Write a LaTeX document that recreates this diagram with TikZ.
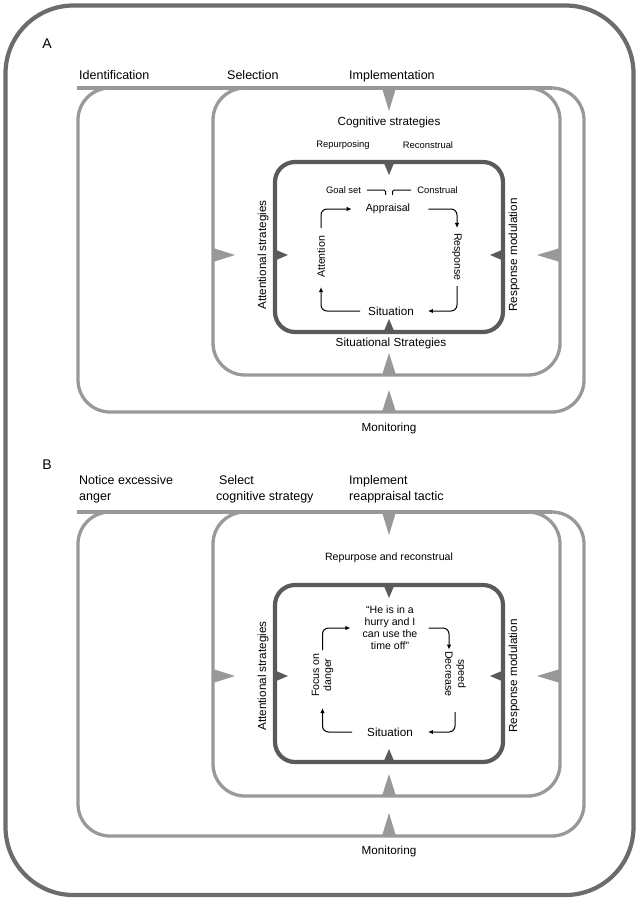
\documentclass[tikz,border=0pt]{standalone}
\usepackage{fontspec}
\setmainfont{Liberation Sans}
\usetikzlibrary{arrows.meta}
\definecolor{lg}{HTML}{999999}
\definecolor{dk}{HTML}{5A5A5A}
\definecolor{fr}{HTML}{6C6C6C}
\begin{document}
\begin{tikzpicture}[x=1pt,y=-1pt,
  frame/.style={draw=fr,line width=4.2pt,rounded corners=68pt},
  lbox/.style={draw=lg,line width=3.3pt,rounded corners=32pt},
  dbox/.style={draw=dk,line width=4.2pt,rounded corners=20pt},
  lbl/.style={inner sep=0pt,text=black},
  fA/.style={font=\fontsize{14}{16}\selectfont},
  fH/.style={font=\fontsize{12.5}{16}\selectfont},
  fM/.style={font=\fontsize{11.7}{14}\selectfont},
  fS/.style={font=\fontsize{10.6}{12}\selectfont},
  fT/.style={font=\fontsize{9.4}{11}\selectfont},
  arr/.style={line width=1pt,rounded corners=6pt,-{Latex[length=5pt,width=4.5pt]}},
  brk/.style={line width=1pt,rounded corners=1.5pt},
]
\useasboundingbox (0,0) rectangle (639,900);
% outer frame
\draw[frame] (5.5,5.5) rectangle (633.5,895);

%%%%%%%%%%%%%%%% PANEL A %%%%%%%%%%%%%%%%
\draw[lg,line width=3.3pt] (77,88) -- (552,88);
\draw[lbox] (78,88) rectangle (584,412);
\draw[lbox] (213,88) rectangle (560,375);
\draw[dbox] (275,162) rectangle (503,332);
% light triangles
\fill[lg] (382,88) -- (396,88) -- (389,111) -- cycle;
\fill[lg] (213,248) -- (213,262) -- (235,255) -- cycle;
\fill[lg] (560,248) -- (560,262) -- (537,255) -- cycle;
\fill[lg] (382,375) -- (396,375) -- (389,353) -- cycle;
\fill[lg] (382,412) -- (396,412) -- (389,390) -- cycle;
% dark triangles
\fill[dk] (383.5,162) -- (394.5,162) -- (389,175) -- cycle;
\fill[dk] (383.5,332) -- (394.5,332) -- (389,319) -- cycle;
\fill[dk] (275,249.5) -- (275,260.5) -- (288,255) -- cycle;
\fill[dk] (503,249.5) -- (503,260.5) -- (490,255) -- cycle;

\node[lbl,fA] (labA) at (47,44) {A};
\node[lbl,fH,anchor=base west] (idA) at (79,79.5) {Identification};
\node[lbl,fH,anchor=base west] (selA) at (227,79.5) {Selection};
\node[lbl,fH,anchor=base west] (impA) at (349,79.5) {Implementation};
\node[lbl,fM] (cogA) at (389,122) {Cognitive strategies};
\node[lbl,fT] (repA) at (343,145) {Repurposing};
\node[lbl,fT] (recA) at (428,145) {Reconstrual};
\node[lbl,fT] (goalA) at (343.5,190) {Goal set};
\node[lbl,fT] (consA) at (437.5,190) {Construal};
\node[lbl,fS] (apprA) at (388,209) {Appraisal};
\node[lbl,fS,rotate=90] (attA) at (321,257) {Attention};
\node[lbl,fS,rotate=-90] (respA) at (457,257) {Response};
\node[lbl,fM] (sitA) at (391,311) {Situation};
\node[lbl,fM] (sitsA) at (391,343) {Situational Strategies};
\node[lbl,fM,rotate=90] (attsA) at (263,255) {Attentional strategies};
\node[lbl,fM,rotate=90] (rmA) at (514,255) {Response modulation};
\node[lbl,fM] (monA) at (389,428) {Monitoring};

\draw[brk] ([xshift=6pt]goalA.east) -| ([xshift=-2.5pt,yshift=9pt]apprA.north);
\draw[brk] ([xshift=-6pt]consA.west) -| ([xshift=4.5pt,yshift=9pt]apprA.north);

\draw[arr] ([xshift=-8pt]sitA.west) -| ([yshift=-9pt]attA.west);
\draw[arr] ([yshift=8pt]attA.east) |- ([xshift=-14pt]apprA.west);
\draw[arr] ([xshift=18pt]apprA.east) -| ([yshift=5pt]respA.west);
\draw[arr] ([yshift=-5pt]respA.east) |- ([xshift=14pt]sitA.east);

%%%%%%%%%%%%%%%% PANEL B %%%%%%%%%%%%%%%%
\draw[lg,line width=3.3pt] (77,512) -- (552,512);
\draw[lbox] (78,512) rectangle (584,836);
\draw[lbox] (213,512) rectangle (560,796);
\draw[dbox] (275,585) rectangle (503,762);
% light triangles
\fill[lg] (382,512) -- (396,512) -- (389,535) -- cycle;
\fill[lg] (213,669) -- (213,683) -- (235,676) -- cycle;
\fill[lg] (560,669) -- (560,683) -- (537,676) -- cycle;
\fill[lg] (382,796) -- (396,796) -- (389,774) -- cycle;
\fill[lg] (382,836) -- (396,836) -- (389,813) -- cycle;
% dark triangles
\fill[dk] (383.5,585) -- (394.5,585) -- (389,598) -- cycle;
\fill[dk] (383.5,762) -- (394.5,762) -- (389,749) -- cycle;
\fill[dk] (275,670.5) -- (275,681.5) -- (288,676) -- cycle;
\fill[dk] (503,670.5) -- (503,681.5) -- (490,676) -- cycle;

\node[lbl,fA] (labB) at (47,465) {B};
\node[lbl,fH,anchor=north west,align=left] (idB) at (79,475.5) {Notice excessive\\anger};
\node[lbl,fH,anchor=north west,align=left] (selB) at (216,475.5) {\hspace{3pt}Select\\cognitive strategy};
\node[lbl,fH,anchor=north west,align=left] (impB) at (349,475.5) {Implement\\reappraisal tactic};
\node[lbl,fS] (rrB) at (389,558) {Repurpose and reconstrual};
\node[lbl,fS,align=center] (quoB) at (390,628) {“He is in a\\hurry and I\\can use the\\time off”};
\node[lbl,fS,align=center,rotate=90] (focB) at (322.5,675) {Focus on\\danger};
\node[lbl,fS,rotate=-90] (decB) at (449,674) {Decrease};
\node[lbl,fS,rotate=-90] (spdB) at (461,674) {speed};
\node[lbl,fM] (sitB) at (390,732) {Situation};
\node[lbl,fM,rotate=90] (attsB) at (263,676) {Attentional strategies};
\node[lbl,fM,rotate=90] (rmB) at (514,676) {Response modulation};
\node[lbl,fM] (monB) at (389,851) {Monitoring};

\draw[arr] ([xshift=-15pt]sitB.west) -| ([yshift=-11pt]focB.west);
\draw[arr] ([yshift=3pt]focB.east) |- ([xshift=-12pt]quoB.west);
\draw[arr] ([xshift=11pt]quoB.east) -| ([yshift=1.5pt]decB.west);
\draw[arr] ([xshift=-6pt,yshift=-23.5pt]spdB.east) |- ([xshift=15pt]sitB.east);
\end{tikzpicture}
\end{document}
